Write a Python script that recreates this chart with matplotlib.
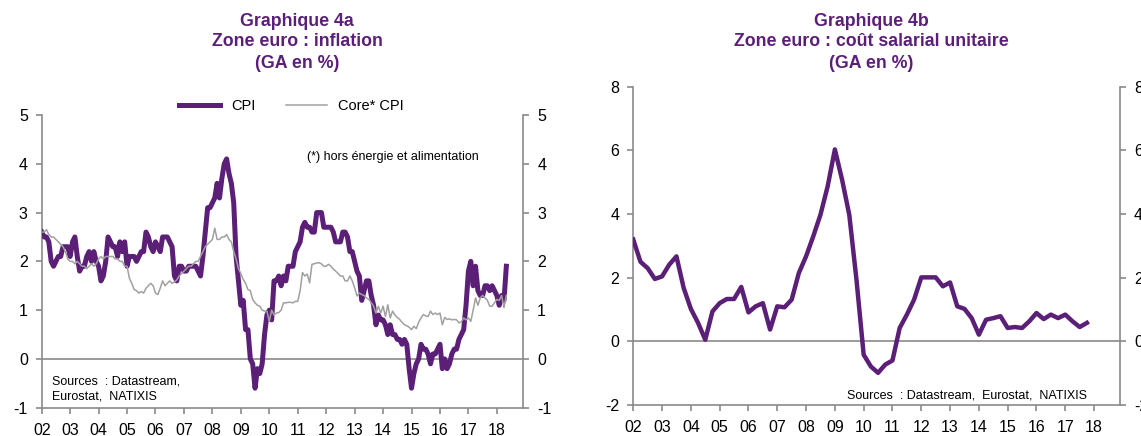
import numpy as np
import pandas as pd
import matplotlib
matplotlib.use('Agg')
import matplotlib.pyplot as plt

plt.rcParams['font.family'] = ['Liberation Sans', 'DejaVu Sans']
plt.rcParams['axes.unicode_minus'] = False

PURPLE = '#5b1f78'
GREY = '#8a8a8a'

# Graphique 4a : zone euro, inflation (GA en %), mensuel 2002-01 -> 2018-05
cpi = [2.6, 2.5, 2.5, 2.4, 2.0, 1.9, 2.0, 2.1, 2.1, 2.3, 2.3, 2.3,
       2.1, 2.4, 2.5, 2.1, 1.8, 1.9, 1.9, 2.1, 2.2, 2.0, 2.2, 2.0,
       1.9, 1.6, 1.7, 2.0, 2.5, 2.4, 2.3, 2.3, 2.1, 2.4, 2.2, 2.4,
       1.9, 2.1, 2.1, 2.1, 2.0, 2.1, 2.2, 2.2, 2.6, 2.5, 2.3, 2.2,
       2.4, 2.3, 2.2, 2.5, 2.5, 2.5, 2.4, 2.3, 1.7, 1.6, 1.9, 1.9,
       1.8, 1.8, 1.9, 1.9, 1.9, 1.9, 1.8, 1.7, 2.1, 2.6, 3.1, 3.1,
       3.2, 3.3, 3.6, 3.3, 3.7, 4.0, 4.1, 3.8, 3.6, 3.2, 2.1, 1.6,
       1.1, 1.2, 0.6, 0.6, 0.0, -0.1, -0.6, -0.2, -0.3, -0.1, 0.5, 0.9,
       1.0, 0.8, 1.6, 1.6, 1.7, 1.5, 1.7, 1.6, 1.9, 1.9, 1.9, 2.2,
       2.3, 2.4, 2.7, 2.8, 2.7, 2.7, 2.6, 2.6, 3.0, 3.0, 3.0, 2.7,
       2.7, 2.7, 2.7, 2.6, 2.4, 2.4, 2.4, 2.6, 2.6, 2.5, 2.2, 2.2,
       2.0, 1.8, 1.7, 1.2, 1.4, 1.6, 1.6, 1.3, 1.1, 0.7, 0.9, 0.8,
       0.8, 0.7, 0.5, 0.7, 0.5, 0.5, 0.4, 0.4, 0.3, 0.4, 0.3, -0.2,
       -0.6, -0.3, -0.1, 0.0, 0.3, 0.2, 0.2, 0.1, -0.1, 0.1, 0.1, 0.2,
       0.3, -0.2, 0.0, -0.2, -0.1, 0.1, 0.2, 0.2, 0.4, 0.5, 0.6, 1.1,
       1.8, 2.0, 1.5, 1.9, 1.4, 1.3, 1.3, 1.5, 1.5, 1.4, 1.5, 1.4,
       1.3, 1.1, 1.3, 1.2, 1.9]

core_cpi = [2.6, 2.6, 2.65, 2.55, 2.5, 2.5, 2.45, 2.4, 2.35, 2.3, 2.2, 2.05,
            2.0, 2.0, 1.95, 2.0, 1.95, 1.9, 1.9, 1.85, 1.9, 1.95, 1.9, 1.95,
            2.05, 2.1, 2.05, 2.1, 2.1, 2.1, 2.1, 2.05, 2.05, 2.0, 2.0, 1.9,
            1.9, 1.65, 1.55, 1.42, 1.4, 1.35, 1.38, 1.35, 1.45, 1.5, 1.55, 1.5,
            1.35, 1.32, 1.45, 1.6, 1.5, 1.55, 1.6, 1.55, 1.58, 1.62, 1.7, 1.75,
            1.8, 1.85, 1.9, 1.9, 1.95, 2.0, 2.0, 2.1, 2.2, 2.3, 2.35, 2.4,
            2.45, 2.68, 2.45, 2.45, 2.5, 2.5, 2.55, 2.45, 2.4, 2.2, 2.05, 1.85,
            1.75, 1.63, 1.55, 1.42, 1.4, 1.22, 1.15, 1.1, 1.08, 1.0, 0.98, 0.98,
            0.77, 1.0, 0.9, 0.94, 0.95, 1.0, 1.15, 1.15, 1.16, 1.16, 1.15, 1.18,
            1.18, 1.4, 1.77, 1.7, 1.74, 1.56, 1.94, 1.95, 1.97, 1.97, 1.95, 1.9,
            1.9, 1.94, 1.9, 1.84, 1.8, 1.75, 1.7, 1.7, 1.6, 1.6, 1.7, 1.6,
            1.46, 1.29, 1.35, 1.32, 1.3, 1.25, 1.22, 1.15, 1.08, 0.94, 1.08, 0.94,
            1.08, 0.87, 1.11, 0.84, 0.98, 0.9, 0.85, 0.81, 0.75, 0.7, 0.68, 0.65,
            0.6, 0.67, 0.62, 0.75, 0.84, 0.91, 0.88, 0.87, 0.98, 0.91, 0.94, 0.91,
            0.94, 0.7, 0.85, 0.81, 0.82, 0.8, 0.81, 0.8, 0.74, 0.76, 0.84, 0.8,
            0.84, 0.77, 1.0, 1.25, 1.1, 1.25, 1.3, 1.25, 1.2, 1.08, 1.08, 1.15,
            1.22, 1.2, 1.3, 1.05, 1.3]

# Graphique 4b : zone euro, cout salarial unitaire (GA en %), trimestriel 2002T1 -> 2017T4
ulc = [3.2, 2.5, 2.3, 1.96, 2.04, 2.41, 2.67, 1.68,
       1.02, 0.58, 0.05, 0.94, 1.2, 1.33, 1.33, 1.71,
       0.91, 1.1, 1.2, 0.37, 1.1, 1.07, 1.31, 2.15,
       2.67, 3.3, 3.98, 4.87, 6.03, 5.08, 3.98, 1.94,
       -0.42, -0.79, -0.99, -0.73, -0.6, 0.42, 0.84, 1.31,
       2.01, 2.01, 2.01, 1.73, 1.85, 1.1, 1.02, 0.73,
       0.21, 0.68, 0.73, 0.79, 0.42, 0.45, 0.42, 0.63,
       0.89, 0.7, 0.84, 0.73, 0.84, 0.63, 0.45, 0.58]

years = list(range(2002, 2019))

months = pd.date_range('2002-01-01', periods=len(cpi), freq='MS')
x_m = months.year + (months.month - 1) / 12
quarters = pd.date_range('2002-01-01', periods=len(ulc), freq='QS')
x_q = quarters.year + (quarters.month - 1) / 12


def style_axes(ax, ylim, yticks, xmax):
    ax.set_xlim(2002, xmax)
    ax.set_ylim(*ylim)
    ax.set_yticks(yticks)
    ax.set_xticks(years)
    ax.set_xticklabels(['%02d' % (y % 100) for y in years])
    ax.spines['top'].set_visible(False)
    for s in ['left', 'right', 'bottom']:
        ax.spines[s].set_color(GREY)
        ax.spines[s].set_linewidth(1.2)
    ax.tick_params(axis='y', left=True, right=True, labelleft=True,
                   labelright=True, direction='out', length=4, color=GREY,
                   width=1.2, labelsize=11.5, pad=6)
    ax.tick_params(axis='x', direction='out', length=4, color=GREY,
                   width=1.2, labelsize=11.5, pad=7)
    ax.axhline(0, color=GREY, lw=1.2, zorder=1)


fig = plt.figure(figsize=(11.41, 4.36), dpi=100)

# --- Graphique 4a
ax1 = fig.add_axes([0.03655, 0.0649, 0.4221, 0.6713])
style_axes(ax1, (-1, 5), range(-1, 6), 2018.93)
l1, = ax1.plot(x_m, cpi, color=PURPLE, lw=3.6, solid_joinstyle='round', zorder=3)
l2, = ax1.plot(x_m, core_cpi, color='#a0a0a0', lw=1.1, zorder=4)

fig.legend([l1, l2], ['CPI', 'Core* CPI'], loc='center',
           bbox_to_anchor=(0.2555, 0.757), ncol=2, frameon=False,
           fontsize=10.5, handlelength=2.8, handletextpad=0.75,
           columnspacing=2.1)

fig.text(0.2688, 0.6406, "(*) hors énergie et alimentation", fontsize=9,
         va='center', ha='left')
fig.text(0.0453, 0.1245, "Sources  : Datastream,", fontsize=9, va='center')
fig.text(0.0453, 0.0917, "Eurostat,  NATIXIS", fontsize=9, va='center')

for txt, yy in [("Graphique 4a", 22), ("Zone euro : inflation", 42), ("(GA en %)", 63)]:
    fig.text(0.2603, 1 - yy / 436, txt, color=PURPLE, fontsize=12.8,
             fontweight='bold', ha='center', va='center')

# --- Graphique 4b
ax2 = fig.add_axes([0.5550, 0.0711, 0.4266, 0.7300])
style_axes(ax2, (-2, 8), range(-2, 9, 2), 2018.9)
ax2.plot(x_q, ulc, color=PURPLE, lw=3.2, solid_joinstyle='round', zorder=3)

fig.text(0.7421, 0.094, "Sources  : Datastream,  Eurostat,  NATIXIS",
         fontsize=9, va='center', ha='left')

for txt, yy in [("Graphique 4b", 22), ("Zone euro : coût salarial unitaire", 42), ("(GA en %)", 63)]:
    fig.text(0.7634, 1 - yy / 436, txt, color=PURPLE, fontsize=12.8,
             fontweight='bold', ha='center', va='center')

plt.savefig('out.png', dpi=100)
